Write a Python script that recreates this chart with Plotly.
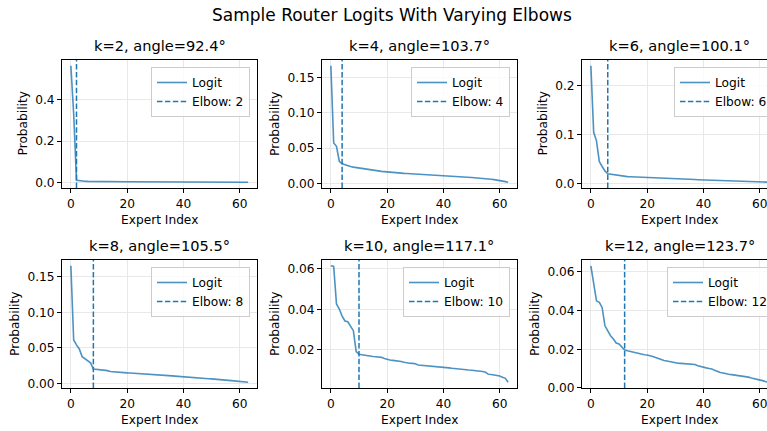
import plotly.graph_objects as go

# ---------------- data ----------------
expert_index = list(range(64))
elbow_k = [2, 4, 6, 8, 10, 12]
angles = [92.4, 103.7, 100.1, 105.5, 117.1, 123.7]

probs_k2 = [0.561, 0.330, 0.012, 0.0095, 0.0080, 0.0070, 0.0064, 0.0060, 0.0057, 0.0055,
            0.0053, 0.0052, 0.0051, 0.0050, 0.0049, 0.0048, 0.0048, 0.0047, 0.0046, 0.0046,
            0.0045, 0.0045, 0.0044, 0.0044, 0.0043, 0.0043, 0.0042, 0.0042, 0.0041, 0.0041,
            0.0040, 0.0040, 0.0040, 0.0039, 0.0039, 0.0038, 0.0038, 0.0038, 0.0037, 0.0037,
            0.0036, 0.0036, 0.0036, 0.0035, 0.0035, 0.0035, 0.0034, 0.0034, 0.0034, 0.0033,
            0.0033, 0.0033, 0.0032, 0.0032, 0.0032, 0.0031, 0.0031, 0.0031, 0.0030, 0.0030,
            0.0029, 0.0029, 0.0028, 0.0027]
probs_k4 = [0.1665, 0.0574, 0.0527, 0.0315, 0.0278, 0.0262, 0.0250, 0.0240, 0.0232, 0.0225,
            0.0220, 0.0214, 0.0208, 0.0203, 0.0198, 0.0185, 0.0180, 0.0176, 0.0172, 0.0168,
            0.0163, 0.0160, 0.0157, 0.0155, 0.0152, 0.0145, 0.0143, 0.0141, 0.0139, 0.0137,
            0.0135, 0.0133, 0.0131, 0.0129, 0.0127, 0.0125, 0.0123, 0.0121, 0.0119, 0.0117,
            0.0115, 0.0112, 0.0109, 0.0106, 0.0103, 0.0100, 0.0097, 0.0094, 0.0091, 0.0088,
            0.0085, 0.0082, 0.0080, 0.0077, 0.0074, 0.0070, 0.0065, 0.0060, 0.0055, 0.0050,
            0.0045, 0.0035, 0.0027, 0.0019]
probs_k6 = [0.241, 0.105, 0.0875, 0.045, 0.035, 0.026, 0.020, 0.0190, 0.0182, 0.0175,
            0.0165, 0.0150, 0.0144, 0.0142, 0.0140, 0.0138, 0.0136, 0.0134, 0.0132, 0.0128,
            0.0123, 0.0120, 0.0117, 0.0115, 0.0112, 0.0110, 0.0107, 0.0105, 0.0102, 0.0100,
            0.0097, 0.0095, 0.0093, 0.0091, 0.0089, 0.0087, 0.0085, 0.0083, 0.0080, 0.0078,
            0.0076, 0.0074, 0.0072, 0.0070, 0.0068, 0.0066, 0.0064, 0.0062, 0.0060, 0.0057,
            0.0055, 0.0053, 0.0051, 0.0049, 0.0047, 0.0045, 0.0043, 0.0041, 0.0039, 0.0037,
            0.0035, 0.0033, 0.0031, 0.0029]
probs_k8 = [0.1655, 0.061, 0.054, 0.0483, 0.0375, 0.0343, 0.031, 0.0287, 0.020, 0.0196,
            0.0192, 0.0188, 0.0184, 0.0178, 0.0165, 0.0160, 0.0157, 0.0154, 0.0151, 0.0148,
            0.0146, 0.0144, 0.0142, 0.0140, 0.0137, 0.0130, 0.0128, 0.0126, 0.0124, 0.0122,
            0.0120, 0.0118, 0.0116, 0.0114, 0.0111, 0.0108, 0.0104, 0.0100, 0.0096, 0.0092,
            0.0088, 0.0086, 0.0084, 0.0082, 0.0078, 0.0074, 0.0070, 0.0067, 0.0065, 0.0063,
            0.0062, 0.0060, 0.0056, 0.0050, 0.0046, 0.0043, 0.0040, 0.0037, 0.0034, 0.0031,
            0.0028, 0.0024, 0.0020, 0.0015]
probs_k10 = [0.0615, 0.0612, 0.0426, 0.0401, 0.0366, 0.0342, 0.0338, 0.0319, 0.0294, 0.0190,
             0.0177, 0.0175, 0.0172, 0.0169, 0.0167, 0.0166, 0.0165, 0.0164, 0.0162, 0.0156,
             0.0151, 0.0149, 0.0147, 0.0146, 0.0144, 0.0141, 0.0138, 0.0134, 0.0133, 0.0132,
             0.0130, 0.0124, 0.0123, 0.0122, 0.0121, 0.0119, 0.0117, 0.0116, 0.0116, 0.0115,
             0.0114, 0.0112, 0.0110, 0.0108, 0.0106, 0.0104, 0.0102, 0.0100, 0.0100, 0.0099,
             0.0098, 0.0097, 0.0096, 0.0094, 0.0092, 0.0088, 0.0078, 0.0077, 0.0075, 0.0073,
             0.0070, 0.0063, 0.0058, 0.0039]
probs_k12 = [0.0631, 0.0545, 0.045, 0.0442, 0.0416, 0.0321, 0.0296, 0.027, 0.0253, 0.0232,
             0.0227, 0.021, 0.0196, 0.0192, 0.0188, 0.0184, 0.0181, 0.0178, 0.0175, 0.0172,
             0.0170, 0.0168, 0.0163, 0.0157, 0.0151, 0.0146, 0.0142, 0.0139, 0.0136, 0.0132,
             0.0129, 0.0128, 0.0127, 0.0126, 0.0125, 0.0125, 0.0123, 0.0121, 0.0115, 0.0110,
             0.0106, 0.0104, 0.0101, 0.0098, 0.0091, 0.0084, 0.0080, 0.0077, 0.0073, 0.0071,
             0.0069, 0.0067, 0.0065, 0.0063, 0.0061, 0.0060, 0.0056, 0.0052, 0.0049, 0.0046,
             0.0043, 0.0038, 0.0033, 0.0030]

all_probs = [probs_k2, probs_k4, probs_k6, probs_k8, probs_k10, probs_k12]
x_ticks = [0, 20, 40, 60]
y_ticks = [[0.0, 0.2, 0.4], [0.0, 0.05, 0.10, 0.15], [0.0, 0.1, 0.2],
           [0.0, 0.05, 0.10, 0.15], [0.02, 0.04, 0.06], [0.0, 0.02, 0.04, 0.06]]
y_formats = [".1f", ".2f", ".1f", ".2f", ".2f", ".2f"]

# ---------------- layout geometry (pixels) ----------------
W, H = 767, 431
col_left = [62, 322, 582]
ax_w = 195
row_top = [60, 260]
ax_h = 128
legend_left_col3 = [674, 667]  # col-3 legends run past the right edge

FONT = "DejaVu Sans"
LINE_C = "rgba(31,119,180,0.8)"
ELBOW_C = "#1f77b4"
GRID_C = "#e8e8e8"


def px(x):
    return x / W


def py(y):
    return 1 - y / H


fig = go.Figure()
layout = dict(
    width=W, height=H,
    margin=dict(l=0, r=0, t=0, b=0, autoexpand=False),
    paper_bgcolor="white", plot_bgcolor="white",
    font=dict(family=FONT, size=12.2, color="black"),
    showlegend=True,
)
annotations = [dict(text="Sample Router Logits With Varying Elbows", x=px(392), y=py(15),
                    xref="paper", yref="paper", showarrow=False,
                    font=dict(size=17, family=FONT, color="black"),
                    xanchor="center", yanchor="middle")]

for i, (k, ang, probs) in enumerate(zip(elbow_k, angles, all_probs)):
    r, c = divmod(i, 3)
    n = i + 1
    xa = "x" if n == 1 else f"x{n}"
    ya = "y" if n == 1 else f"y{n}"
    lg = "legend" if n == 1 else f"legend{n}"

    xmin, xmax = min(expert_index), max(expert_index)
    xs = xmax - xmin
    x_lo, x_hi = xmin - 0.05 * xs, xmax + 0.05 * xs
    ymin, ymax = min(probs), max(probs)
    ys = ymax - ymin
    y_lo, y_hi = ymin - 0.05 * ys, ymax + 0.05 * ys

    left = col_left[c]
    right = min(left + ax_w, W)
    if right < left + ax_w:
        x_hi = x_lo + (x_hi - x_lo) * (right - left) / ax_w
    top = row_top[r]
    bottom = top + ax_h

    fig.add_trace(go.Scatter(x=expert_index, y=probs, mode="lines", name="Logit",
                             line=dict(color=LINE_C, width=1.6),
                             xaxis=xa, yaxis=ya, legend=lg))
    fig.add_trace(go.Scatter(x=[k, k], y=[y_lo, y_hi], mode="lines", name=f"Elbow: {k}",
                             line=dict(color=ELBOW_C, width=1.5, dash="5.5px,2.4px"),
                             xaxis=xa, yaxis=ya, legend=lg))

    layout["xaxis" if n == 1 else f"xaxis{n}"] = dict(
        domain=[px(left), px(right)], anchor=ya, range=[x_lo, x_hi],
        tickvals=x_ticks, ticks="outside", ticklen=4, tickwidth=1, tickcolor="black",
        ticklabeloverflow="allow",
        showline=True, linecolor="black", linewidth=1, mirror=True,
        showgrid=True, gridcolor=GRID_C, gridwidth=1, zeroline=False,
        tickfont=dict(size=12.2, family=FONT, color="black"),
    )
    layout["yaxis" if n == 1 else f"yaxis{n}"] = dict(
        domain=[py(bottom), py(top)], anchor=xa, range=[y_lo, y_hi],
        tickvals=y_ticks[i], tickformat=y_formats[i],
        ticks="outside", ticklen=4, tickwidth=1, tickcolor="black",
        showline=True, linecolor="black", linewidth=1, mirror=(c != 2),
        showgrid=True, gridcolor=GRID_C, gridwidth=1, zeroline=False,
        tickfont=dict(size=12.2, family=FONT, color="black"),
    )
    if c == 2:
        leg_pos = dict(x=px(legend_left_col3[r]), xanchor="left")
    else:
        leg_pos = dict(x=px(left + ax_w - 7), xanchor="right")
    layout[lg] = dict(
        y=py(top + 7), yanchor="top", xref="paper", yref="paper",
        bgcolor="rgba(255,255,255,0.8)", bordercolor="#cccccc", borderwidth=1,
        font=dict(size=12.2, family=FONT, color="black"),
        **leg_pos,
    )

    # subplot title
    annotations.append(dict(text=f"k={k}, angle={ang}°", x=px(left + ax_w / 2),
                            y=py(row_top[r] - 14.5), xref="paper", yref="paper",
                            showarrow=False, xanchor="center", yanchor="middle",
                            font=dict(size=14.6, family=FONT, color="black")))
    # x label
    annotations.append(dict(text="Expert Index", x=px(left + 97.5),
                            y=py(bottom + 32), xref="paper", yref="paper",
                            showarrow=False, xanchor="center", yanchor="middle",
                            font=dict(size=12.2, family=FONT, color="black")))
    # y label
    wide = y_formats[i] == ".2f"
    annotations.append(dict(text="Probability", x=px(left - (47 if wide else 39.5)),
                            y=py(top + ax_h / 2), xref="paper", yref="paper",
                            showarrow=False, xanchor="center", yanchor="middle",
                            textangle=-90,
                            font=dict(size=12.2, family=FONT, color="black")))

layout["annotations"] = annotations
fig.update_layout(**layout)
fig.write_html(
    "out.html",
    config={"displayModeBar": False},
    post_script="document.body.style.margin='0';document.body.style.overflow='hidden';",
)
